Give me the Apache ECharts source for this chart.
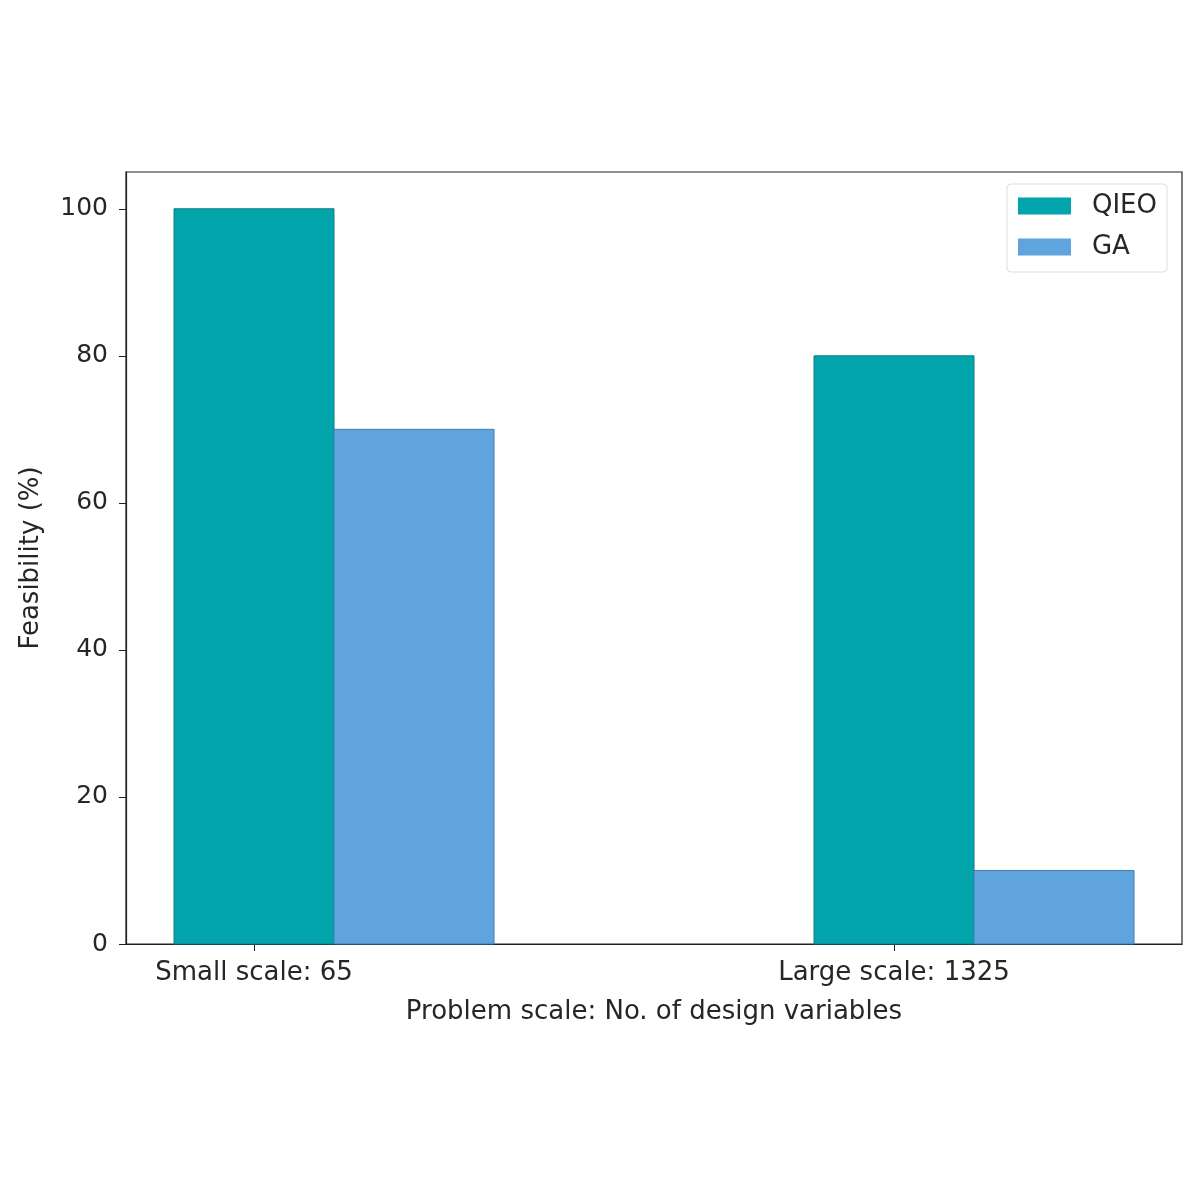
<!DOCTYPE html>
<html>
<head>
<meta charset="utf-8">
<script src="https://cdn.jsdelivr.net/npm/echarts@6/dist/echarts.min.js"></script>
<style>html,body{margin:0;padding:0;background:#fff;}#c{width:1200px;height:1200px;}</style>
</head>
<body>
<div id="c"></div>
<script>
const categories = ['Small scale: 65', 'Large scale: 1325'];
const seriesNames = ['QIEO', 'GA'];
const qieoValues = [100, 80];
const gaValues = [70, 10];
const yTicks = [0, 20, 40, 60, 80, 100];
const xTitle = 'Problem scale: No. of design variables';
const yTitle = 'Feasibility (%)';

const BAR_W = 0.25;
const colors = ['#00A4AA', '#5FA4DD'];
const edges = ['#0b7f84', '#3d7fb8'];

function makeSeries(name, values, offset, idx) {
  return {
    type: 'custom',
    name: name,
    itemStyle: { color: colors[idx] },
    data: values.map((v, i) => [i, v]),
    encode: { x: 0, y: 1 },
    renderItem: function (params, api) {
      const c = api.value(0) + offset;
      const p0 = api.coord([c - BAR_W / 2, api.value(1)]);
      const p1 = api.coord([c + BAR_W / 2, 0]);
      return {
        type: 'rect',
        shape: { x: p0[0], y: p0[1], width: p1[0] - p0[0], height: p1[1] - p0[1] },
        style: { fill: colors[idx], stroke: edges[idx], lineWidth: 1 }
      };
    }
  };
}

const chart = echarts.init(document.getElementById('c'));
const font = 'DejaVu Sans';
chart.setOption({
  animation: false,
  backgroundColor: '#fff',
  textStyle: { fontFamily: font },
  grid: { left: 126, top: 172, width: 1056, height: 772, show: true, borderColor: '#222', borderWidth: 1.2, backgroundColor: 'transparent' },
  legend: {
    right: 33, top: 184,
    orient: 'vertical',
    itemWidth: 53, itemHeight: 17, itemGap: 15,
    padding: [9, 10, 12, 11],
    borderColor: '#ddd', borderWidth: 1, borderRadius: 4,
    icon: 'rect',
    textStyle: { fontFamily: font, fontSize: 26, color: '#262626', padding: [0, 0, 0, 16] },
    data: seriesNames
  },
  xAxis: {
    type: 'value', min: -0.2, max: 1.45,
    splitLine: { show: false },
    axisLine: { show: true, onZero: false, lineStyle: { color: '#222', width: 1.2 } },
    axisTick: { show: true, customValues: [0, 1], length: 7, lineStyle: { color: '#222' } },
    axisLabel: {
      customValues: [0, 1], margin: 16,
      fontFamily: font, fontSize: 26, color: '#262626',
      formatter: v => categories[Math.round(v)] || ''
    },
    name: xTitle, nameLocation: 'middle', nameGap: 55,
    nameTextStyle: { fontFamily: font, fontSize: 26, color: '#262626' }
  },
  yAxis: {
    type: 'value', min: 0, max: 105,
    splitLine: { show: false },
    axisLine: { show: true, onZero: false, lineStyle: { color: '#222', width: 1.2 } },
    axisTick: { show: true, customValues: yTicks, length: 7, lineStyle: { color: '#222' } },
    axisLabel: { customValues: yTicks, margin: 18, fontFamily: font, fontSize: 25, color: '#262626' },
    name: yTitle, nameLocation: 'middle', nameGap: 82,
    nameTextStyle: { fontFamily: font, fontSize: 26, color: '#262626' }
  },
  series: [
    makeSeries(seriesNames[0], qieoValues, 0, 0),
    makeSeries(seriesNames[1], gaValues, BAR_W, 1)
  ]
});
</script>
</body>
</html>
